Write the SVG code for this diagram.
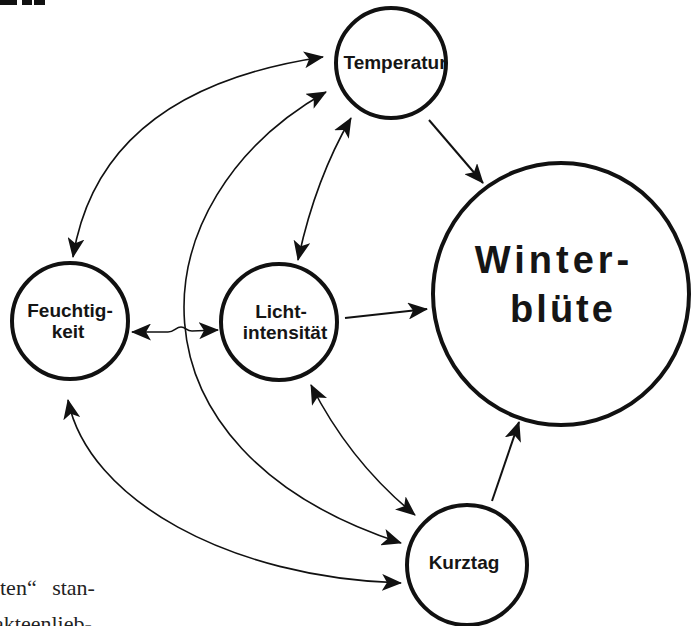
<svg xmlns="http://www.w3.org/2000/svg" width="697" height="626" viewBox="0 0 697 626">
<style>
.node{fill:#fff;stroke:#111;stroke-width:4}
.lbl{font-family:"Liberation Sans",Arial,sans-serif;font-weight:bold;fill:#151515;text-anchor:middle}
.c{fill:none;stroke:#111;stroke-width:1.6}
.c2{fill:none;stroke:#111;stroke-width:2}
.body{font-family:"Liberation Serif","Times New Roman",serif;font-size:22px;fill:#222}
</style>
<defs>
<marker id="ah" viewBox="0 0 20 17" refX="19" refY="8.5" markerWidth="20" markerHeight="17" markerUnits="userSpaceOnUse" orient="auto-start-reverse">
<path d="M0,0 L20,8.5 L0,17 L5,8.5 Z" fill="#111"/>
</marker>
</defs>
<rect width="697" height="626" fill="#fff"/>
<g id="heading-fragment" fill="#111">
<rect x="0" y="0" width="17" height="5"/>
<rect x="22" y="0" width="10" height="5"/>
<rect x="34" y="0" width="11" height="5"/>
</g>
<g id="connectors">
<path class="c" d="M73,257 Q100,90 323,57" marker-start="url(#ah)" marker-end="url(#ah)"/>
<path class="c" d="M326,92 C135,200 115,450 401,543" marker-start="url(#ah)" marker-end="url(#ah)"/>
<path class="c" d="M351,118 Q315,180 298,260" marker-start="url(#ah)" marker-end="url(#ah)"/>
<path class="c" d="M132,332 L168,332 C174,332 176,327 181,327 C186,327 186,331 192,331 L218,330" marker-start="url(#ah)" marker-end="url(#ah)"/>
<path class="c" d="M311,385 Q350,462 415,515" marker-start="url(#ah)" marker-end="url(#ah)"/>
<path class="c" d="M68,400 C88,500 230,578 401,583" marker-start="url(#ah)" marker-end="url(#ah)"/>
<path class="c2" d="M429,120 L483,183" marker-end="url(#ah)"/>
<path class="c2" d="M345,318 L427,309" marker-end="url(#ah)"/>
<path class="c2" d="M492,501 L519,422" marker-end="url(#ah)"/>
</g>
<g id="temperatur">
<circle class="node" cx="391" cy="63" r="55"/>
<text class="lbl" x="395" y="69" font-size="19">Temperatur</text>
</g>
<g id="winterbluete">
<ellipse class="node" cx="561" cy="294" rx="128" ry="131"/>
<text class="lbl" x="554" y="273" font-size="38" letter-spacing="4">Winter-</text>
<text class="lbl" x="563" y="322" font-size="38" letter-spacing="3">blüte</text>
</g>
<g id="feuchtigkeit">
<circle class="node" cx="70" cy="321" r="58"/>
<text class="lbl" x="70" y="317" font-size="19">Feuchtig-</text>
<text class="lbl" x="68" y="338" font-size="19">keit</text>
</g>
<g id="lichtintensitaet">
<circle class="node" cx="279" cy="322" r="58"/>
<text class="lbl" x="281" y="318" font-size="19">Licht-</text>
<text class="lbl" x="285" y="339" font-size="19">intensität</text>
</g>
<g id="kurztag">
<circle class="node" cx="467" cy="565" r="60"/>
<text class="lbl" x="464" y="569" font-size="19">Kurztag</text>
</g>
<g id="page-text">
<text class="body" x="0" y="595" word-spacing="10">ten“ stan-</text>
<text class="body" x="-6" y="631">akteenlieb-</text>
</g>
</svg>
